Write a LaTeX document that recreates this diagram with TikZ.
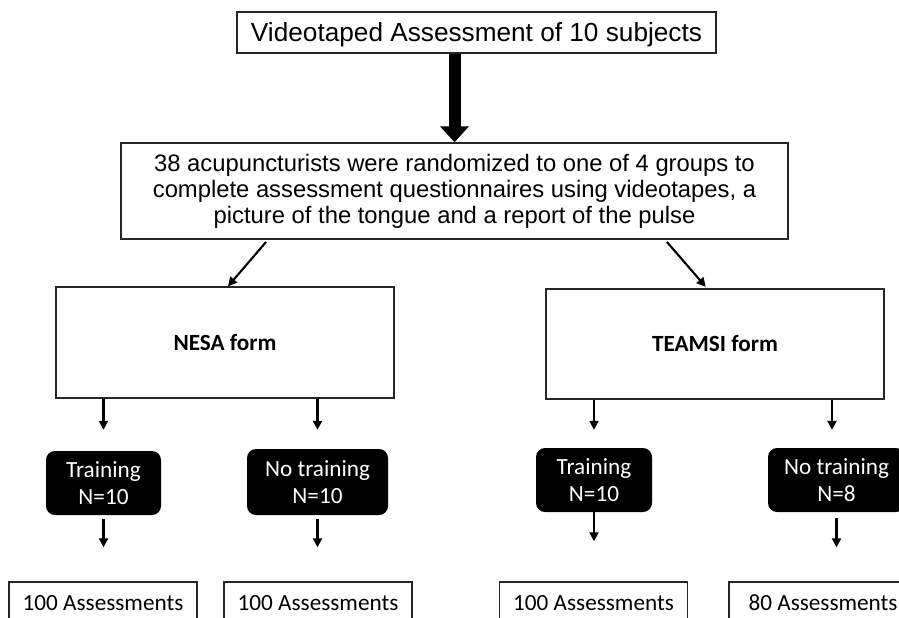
\documentclass[tikz,border=0pt]{standalone}
\usepackage{fontspec}
\setmainfont{Liberation Sans}
\newfontfamily\calfont{Carlito}
\usetikzlibrary{arrows.meta,calc}
\begin{document}
\begin{tikzpicture}[x=1pt,y=-1pt,
  box/.style={draw=black!85, line width=1.4pt, fill=white, inner sep=0pt},
  blk/.style={fill=black, rounded corners=9pt, text=white, align=center, inner sep=0pt,
    font=\calfont\fontsize{23.2}{27}\selectfont},
  asm/.style={box, minimum width=188pt, minimum height=41pt, text height=15pt, text depth=0pt,
    font=\calfont\fontsize{23.2}{27}\selectfont},
  arr/.style={line width=2.1pt, -{Triangle[width=9pt,length=9pt]}},
  bigarr/.style={line width=12pt, -{Triangle[width=28pt,length=16pt]}}
]
\useasboundingbox (0,0) rectangle (899,618);

\node[box, minimum width=479pt, minimum height=41pt, text height=18.8pt, text depth=0pt,
  font=\fontsize{26.2}{30}\selectfont] (top) at (476.5,32.5) {Videotaped Assessment of 10 subjects};

\node[box, minimum width=667pt, minimum height=96pt, align=center,
  font=\fontsize{23.8}{26}\selectfont] (mid) at (454.5,191)
  {38 acupuncturists were randomized to one of 4 groups to\\complete assessment questionnaires using videotapes, a\\picture of the tongue and a report of the pulse};

\node[box, minimum width=338pt, minimum height=111pt, text height=15pt, text depth=0pt,
  font=\calfont\bfseries\fontsize{23.2}{27}\selectfont] (nesa) at (225,342.5) {NESA form};
\node[box, minimum width=338pt, minimum height=110pt, text height=15pt, text depth=0pt,
  font=\calfont\bfseries\fontsize{23.2}{27}\selectfont] (teamsi) at (715,344) {TEAMSI form};

\node[blk, minimum width=115pt, minimum height=64pt] (t1) at (103.5,483) {Training\\N=10};
\node[blk, minimum width=141pt, minimum height=66pt] (t2) at (317.5,482) {No training\\N=10};
\node[blk, minimum width=116pt, minimum height=64pt] (t3) at (594,480) {Training\\N=10};
\node[blk, minimum width=137pt, minimum height=64pt] (t4) at (836.5,480) {No training\\N=8};

\node[asm] (a1) at (103,602.5) {100 Assessments};
\node[asm] (a2) at (318,602.5) {100 Assessments};
\node[asm] (a3) at (593.5,602.5) {100 Assessments};
\node[asm] (a4) at (823,602.5) {80 Assessments};

\draw[bigarr] (top.south -| mid.north) -- (mid.north);

\draw[arr, shorten <=3pt] ([xshift=-186.5pt]mid.south) -- ([xshift=3pt]nesa.north);
\draw[arr, shorten <=3pt, shorten >=2pt] ([xshift=210.5pt]mid.south) -- ([xshift=-8pt]teamsi.north);

\draw[arr, shorten >=21pt] (nesa.south -| t1.north) -- (t1.north);
\draw[arr, shorten >=19pt] (nesa.south -| t2.north) -- (t2.north);
\draw[arr, shorten >=18pt] (teamsi.south -| t3.north) -- (t3.north);
\draw[arr, shorten >=18pt] ($(teamsi.south -| t4.north)+(-4.5,0)$) -- ($(t4.north)+(-4.5,0)$);

\draw[arr, shorten <=4pt, shorten >=34pt] (t1.south) -- (t1.south |- a1.north);
\draw[arr, shorten <=4pt, shorten >=34pt] (t2.south) -- (t2.south |- a2.north);
\draw[arr, shorten >=40pt] (t3.south) -- (t3.south |- a3.north);
\draw[arr, shorten <=6pt, shorten >=34pt] (t4.south) -- (t4.south |- a4.north);
\end{tikzpicture}
\end{document}
